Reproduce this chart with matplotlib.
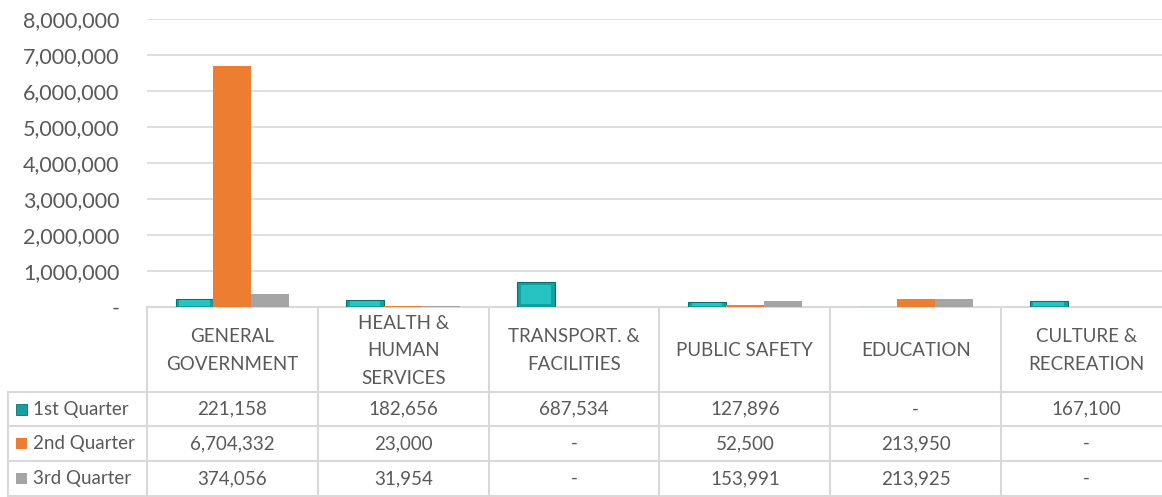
import numpy as np
import matplotlib
matplotlib.use("Agg")
import matplotlib.pyplot as plt
from matplotlib.ticker import FuncFormatter

plt.rcParams['font.family'] = ['Lato', 'DejaVu Sans']

# data
categories = ["GENERAL\nGOVERNMENT", "HEALTH &\nHUMAN\nSERVICES", "TRANSPORT. &\nFACILITIES",
              "PUBLIC SAFETY", "EDUCATION", "CULTURE &\nRECREATION"]
series_names = ["1st Quarter", "2nd Quarter", "3rd Quarter"]
q1 = [221158, 182656, 687534, 127896, 0, 167100]
q2 = [6704332, 23000, 0, 52500, 213950, 0]
q3 = [374056, 31954, 0, 153991, 213925, 0]
y_ticks = [0, 1000000, 2000000, 3000000, 4000000, 5000000, 6000000, 7000000, 8000000]

txt = '#595959'
grid = '#D9D9D9'
colors = ['#1AB0B0', '#ED7D31', '#A5A5A5']

W, H = 1162, 497
fig = plt.figure(figsize=(W / 100, H / 100), dpi=100)

x0, x1 = 147, 1172
ytop, ybot = 19, 307
ax = fig.add_axes([x0 / W, 1 - ybot / H, (x1 - x0) / W, (ybot - ytop) / H])
n = len(categories)
x = np.arange(n)
bw = 0.222

for i, vals in enumerate([q1, q2, q3]):
    pos = x + (i - 1) * bw
    if i == 0:
        ax.bar(pos, vals, width=bw, color='#12A0A0', edgecolor='#0B6F6F', linewidth=0.8, zorder=3)
        v = np.array(vals)
        ax.bar(pos, v * 0.75, bottom=v * 0.12, width=bw * 0.8, color='#27C2C2', linewidth=0, zorder=4)
    else:
        ax.bar(pos, vals, width=bw, color=colors[i], linewidth=0, zorder=3)

ax.set_xlim(-0.5, n - 0.5)
ax.set_ylim(0, 8000000)
ax.set_yticks(y_ticks)
ax.yaxis.set_major_formatter(FuncFormatter(lambda v, p: '-' if v == 0 else f'{int(v):,}'))
ax.tick_params(axis='y', length=0, pad=20, labelsize=15.5, labelcolor=txt)
ax.set_xticks([])
ax.grid(axis='y', color=grid, linewidth=1.2, zorder=0)
for s in ['top', 'right', 'left']:
    ax.spines[s].set_visible(False)
ax.spines['bottom'].set_color(grid)
ax.spines['bottom'].set_linewidth(1.5)

# data table underneath
tb = fig.add_axes([x0 / W, 0, (x1 - x0) / W, 1 - ybot / H])
tb.set_xlim(-0.5, n - 0.5)
tb.set_ylim(H, ybot)  # pixel rows
tb.axis('off')
row_y = [392, 426, 461, 496]
cw = (x1 - x0) / n
left = -0.5 - (x0 - 8) / cw
lw = 1.5
for b in np.arange(n + 1) - 0.5:
    tb.plot([b, b], [ybot, H], color=grid, lw=lw, clip_on=False)
tb.plot([left, left], [row_y[0], row_y[-1]], color=grid, lw=lw, clip_on=False)
for ry in row_y:
    tb.plot([left, n - 0.5], [ry, ry], color=grid, lw=lw, clip_on=False)

for j, lab in enumerate(categories):
    tb.text(j, (ybot + row_y[0]) / 2 + 1, lab, ha='center', va='center', fontsize=13.5,
            color=txt, linespacing=1.75)

for i, vals in enumerate([q1, q2, q3]):
    cy = (row_y[i] + row_y[i + 1]) / 2
    key_x = left + 13.5 / cw
    tb.bar(key_x, 11, bottom=cy - 5.5, width=11 / cw, color=colors[i] if i else '#12A0A0',
           edgecolor='#0B6F6F' if i == 0 else 'none', linewidth=0.6, clip_on=False)
    tb.text(left + 25 / cw, cy, series_names[i], ha='left', va='center', fontsize=13.5, color=txt, clip_on=False)
    for j, v in enumerate(vals):
        tb.text(j, cy, '-' if v == 0 else f'{v:,}', ha='center', va='center', fontsize=13.5, color=txt)

fig.savefig('out.png', dpi=100)
